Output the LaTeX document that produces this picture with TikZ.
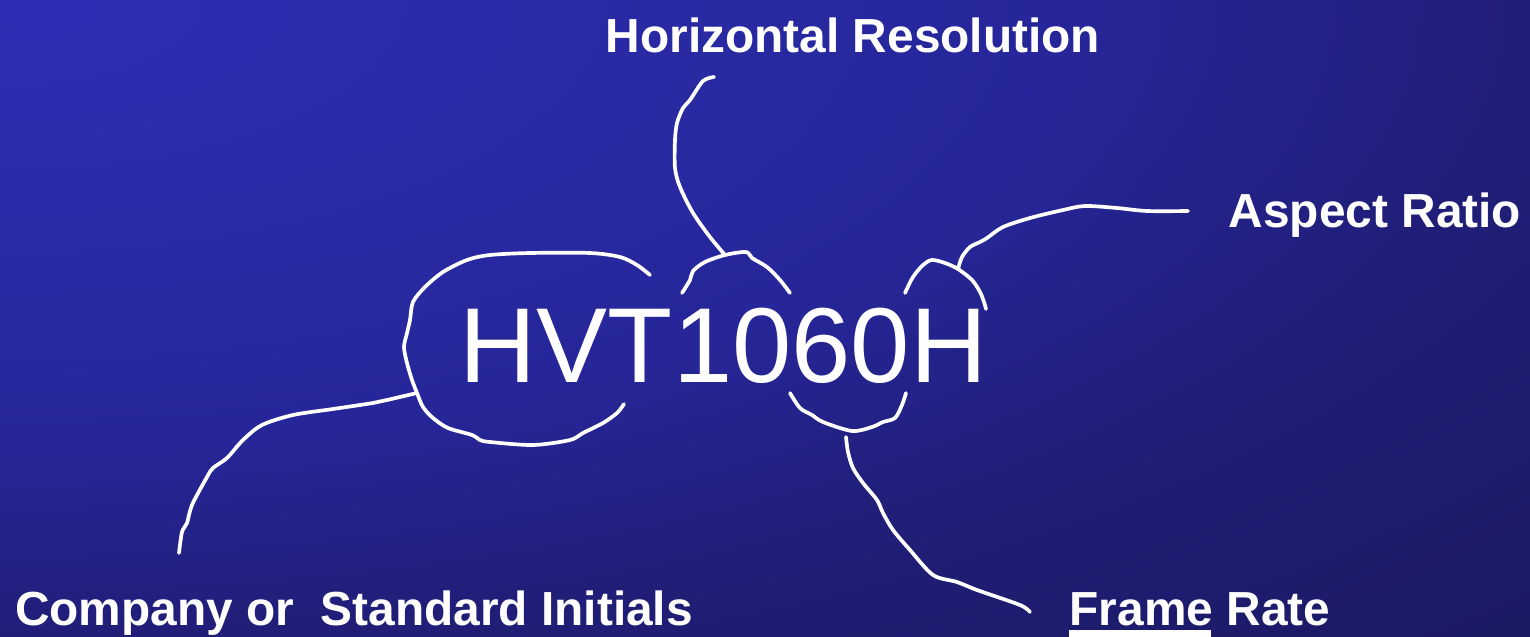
\documentclass[tikz,border=0pt]{standalone}
\usepackage{fontspec}
\setmainfont{Liberation Sans}
\definecolor{bgA}{RGB}{46,46,181}
\definecolor{bgB}{RGB}{38,38,153}
\definecolor{bgC}{RGB}{32,30,119}
\definecolor{bgD}{RGB}{27,26,100}
\pgfdeclareradialshading{bgshade}{\pgfpoint{0bp}{0bp}}{color(0bp)=(bgA); color(12.4bp)=(bgB); color(17.7bp)=(bgC); color(25bp)=(bgD); color(50bp)=(bgD)}
\tikzset{
  lbl/.style={text=white, font=\fontsize{13.6}{16}\selectfont\bfseries, inner sep=0pt, anchor=base},
  pen/.style={white, line width=1.05pt, line cap=round, line join=round},
}
\begin{document}
\begin{tikzpicture}[x=0.01cm, y=-0.01cm]
    \useasboundingbox (0,0) rectangle (1530,636);
    % background
    \begin{scope}
        \clip (0,0) rectangle (1530,636);
        \shade[shading=bgshade] (0,0) ellipse [x radius=21.64cm, y radius=9cm];
    \end{scope}
    % code
    \node[text=white, font=\fontsize{30.3}{36}\selectfont, inner sep=0pt, anchor=base] (code) at (723.5,382) {HVT1060H};
    % labels
    \node[lbl] (horiz) at (853,52) {Horizontal Resolution};
    \node[lbl] (aspect) at (1375,227) {Aspect Ratio};
    \node[lbl] (company) at (354,625) {Company or\ \ Standard Initials};
    \node[lbl] (frame) at (1200,625) {Frame Rate};
    \fill[white] (1069,630) rectangle (1211,640);
    % joints
    \coordinate (hrtip) at (714,77);
    \coordinate (hrjoin) at (725,255);
    \coordinate (cstip) at (179,553);
    \coordinate (csjoin) at (417,393);
    \coordinate (artip) at (1188,211);
    \coordinate (arjoin) at (958,269);
    \coordinate (frtip) at (1030,612);
    \coordinate (frjoin) at (846,437);
    % loop round HV
    \draw[pen] plot[smooth, tension=0.5] coordinates {(650,275) (637,265) (620,257) (590,253) (530,253) (490,255) (467,260) (443,272) (425,287) (413,302) (410,320) (407,333) (404,347) (407,363) (412,380) (csjoin) (423,407) (433,418) (448,428) (472,435) (480,440) (490,442) (533,445) (570,440) (583,433) (603,423) (617,413) (624,404)};
    % arc over T1
    \draw[pen] plot[smooth, tension=0.5] coordinates {(682,293) (690,280) (693,271) (705,262) (hrjoin) (746,252) (752,258) (767,267) (780,280) (790,293)};
    % arc over 0H
    \draw[pen] plot[smooth, tension=0.5] coordinates {(905,293) (913,277) (923,265) (932,260) (945,263) (arjoin) (972,280) (980,292) (984,302) (986,309)};
    % arc under 60
    \draw[pen] plot[smooth, tension=0.5] coordinates {(790,393) (800,408) (812,415) (823,422) (852,431) (872,427) (883,422) (895,418) (902,405) (906,393)};
    % connectors
    \draw[pen] plot[smooth, tension=0.5] coordinates {(hrtip) (703,81) (690,100) (683,108) (677,123) (675,140) (675,168) (680,187) (693,213) (710,237) (hrjoin)};
    \draw[pen] plot[smooth, tension=0.5] coordinates {(csjoin) (387,400) (373,403) (333,409) (293,415) (262,425) (243,440) (227,458) (213,468) (207,477) (192,505) (187,523) (182,532) (cstip)};
    \draw[pen] plot[smooth, tension=0.5] coordinates {(arjoin) (962,257) (970,247) (980,242) (987,238) (1003,227) (1030,218) (1063,210) (1085,206) (1117,208) (1147,211) (artip)};
    \draw[pen] plot[smooth, tension=0.5] coordinates {(frjoin) (848,452) (853,468) (863,483) (877,500) (883,513) (893,530) (910,550) (933,575) (957,582) (977,590) (1020,605) (frtip)};
\end{tikzpicture}
\end{document}
